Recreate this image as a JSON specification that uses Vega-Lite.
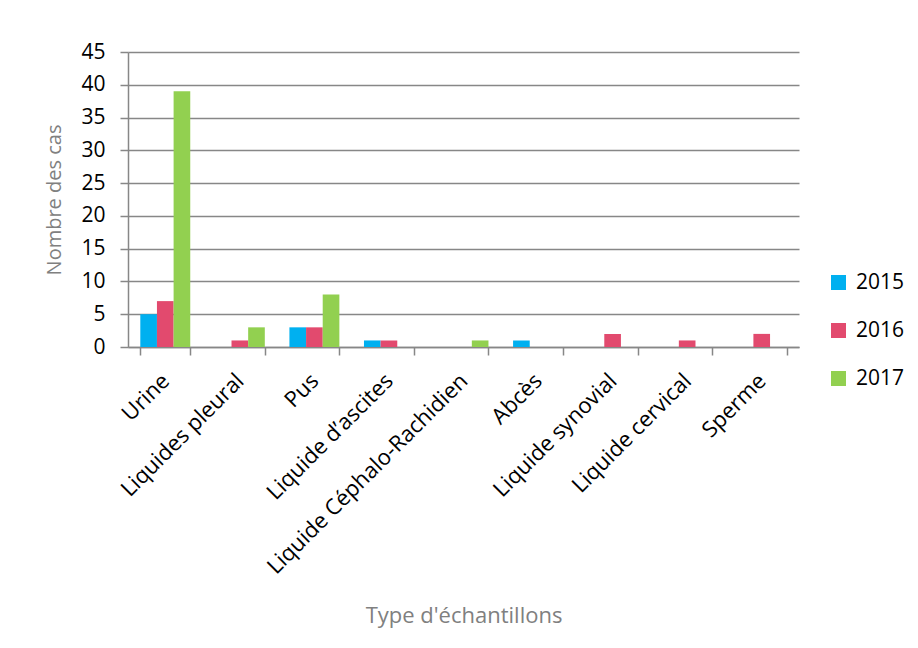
{
  "$schema": "https://vega.github.io/schema/vega-lite/v6.json",
  "autosize": {"type": "none"},
  "width": 671,
  "height": 295,
  "padding": {"left": 128, "top": 52, "right": 119, "bottom": 301},
  "background": "white",
  "config": {
    "font": "Open Sans",
    "view": {"stroke": null}
  },
  "data": {
    "values": [
      {"type": "Urine", "year": "2015", "cas": 5},
      {"type": "Urine", "year": "2016", "cas": 7},
      {"type": "Urine", "year": "2017", "cas": 39},
      {"type": "Liquides pleural", "year": "2015", "cas": 0},
      {"type": "Liquides pleural", "year": "2016", "cas": 1},
      {"type": "Liquides pleural", "year": "2017", "cas": 3},
      {"type": "Pus", "year": "2015", "cas": 3},
      {"type": "Pus", "year": "2016", "cas": 3},
      {"type": "Pus", "year": "2017", "cas": 8},
      {"type": "Liquide d’ascites", "year": "2015", "cas": 1},
      {"type": "Liquide d’ascites", "year": "2016", "cas": 1},
      {"type": "Liquide d’ascites", "year": "2017", "cas": 0},
      {"type": "Liquide Céphalo-Rachidien", "year": "2015", "cas": 0},
      {"type": "Liquide Céphalo-Rachidien", "year": "2016", "cas": 0},
      {"type": "Liquide Céphalo-Rachidien", "year": "2017", "cas": 1},
      {"type": "Abcès", "year": "2015", "cas": 1},
      {"type": "Abcès", "year": "2016", "cas": 0},
      {"type": "Abcès", "year": "2017", "cas": 0},
      {"type": "Liquide synovial", "year": "2015", "cas": 0},
      {"type": "Liquide synovial", "year": "2016", "cas": 2},
      {"type": "Liquide synovial", "year": "2017", "cas": 0},
      {"type": "Liquide cervical", "year": "2015", "cas": 0},
      {"type": "Liquide cervical", "year": "2016", "cas": 1},
      {"type": "Liquide cervical", "year": "2017", "cas": 0},
      {"type": "Sperme", "year": "2015", "cas": 0},
      {"type": "Sperme", "year": "2016", "cas": 2},
      {"type": "Sperme", "year": "2017", "cas": 0}
    ]
  },
  "mark": {"type": "bar"},
  "encoding": {
    "x": {
      "field": "type",
      "type": "nominal",
      "sort": null,
      "scale": {"paddingInner": 0.33, "paddingOuter": 0.165},
      "axis": {
        "title": "Type d'échantillons",
        "titleFont": "Open Sans",
        "titleFontSize": 22,
        "titleFontWeight": "normal",
        "titleColor": "#808080",
        "titleBaseline": "middle",
        "titleY": 268,
        "labelAngle": -45,
        "labelAlign": "right",
        "labelBaseline": "middle",
        "labelFontSize": 22,
        "labelColor": "#000000",
        "labelPadding": 22,
        "labelOverlap": false,
        "labelLimit": 400,
        "tickBand": "extent",
        "tickSize": 8,
        "tickColor": "#878787",
        "tickWidth": 1.5,
        "domainColor": "#878787",
        "domainWidth": 1.5,
        "grid": false
      }
    },
    "xOffset": {"field": "year", "type": "nominal", "scale": {"paddingInner": 0, "paddingOuter": 0}},
    "y": {
      "field": "cas",
      "type": "quantitative",
      "scale": {"domain": [0, 45], "nice": false},
      "axis": {
        "title": "Nombre des cas",
        "titleFont": "Open Sans",
        "titleFontSize": 20,
        "titleFontWeight": "normal",
        "titleColor": "#808080",
        "titlePadding": 16,
        "values": [0, 5, 10, 15, 20, 25, 30, 35, 40, 45],
        "labelFontSize": 21,
        "labelColor": "#000000",
        "labelPadding": 15,
        "tickSize": 8,
        "tickColor": "#878787",
        "tickWidth": 1.5,
        "domainColor": "#878787",
        "domainWidth": 1.5,
        "grid": true,
        "gridColor": "#878787",
        "gridWidth": 1.5
      }
    },
    "color": {
      "field": "year",
      "type": "nominal",
      "scale": {"domain": ["2015", "2016", "2017"], "range": ["#00B0F0", "#E24A6E", "#92D050"]},
      "legend": {
        "title": null,
        "orient": "none",
        "legendX": 700,
        "legendY": 220,
        "symbolType": "square",
        "symbolSize": 225,
        "symbolStrokeWidth": 0,
        "labelFontSize": 21,
        "labelColor": "#000000",
        "labelOffset": 7,
        "rowPadding": 26,
        "padding": 0
      }
    }
  }
}
